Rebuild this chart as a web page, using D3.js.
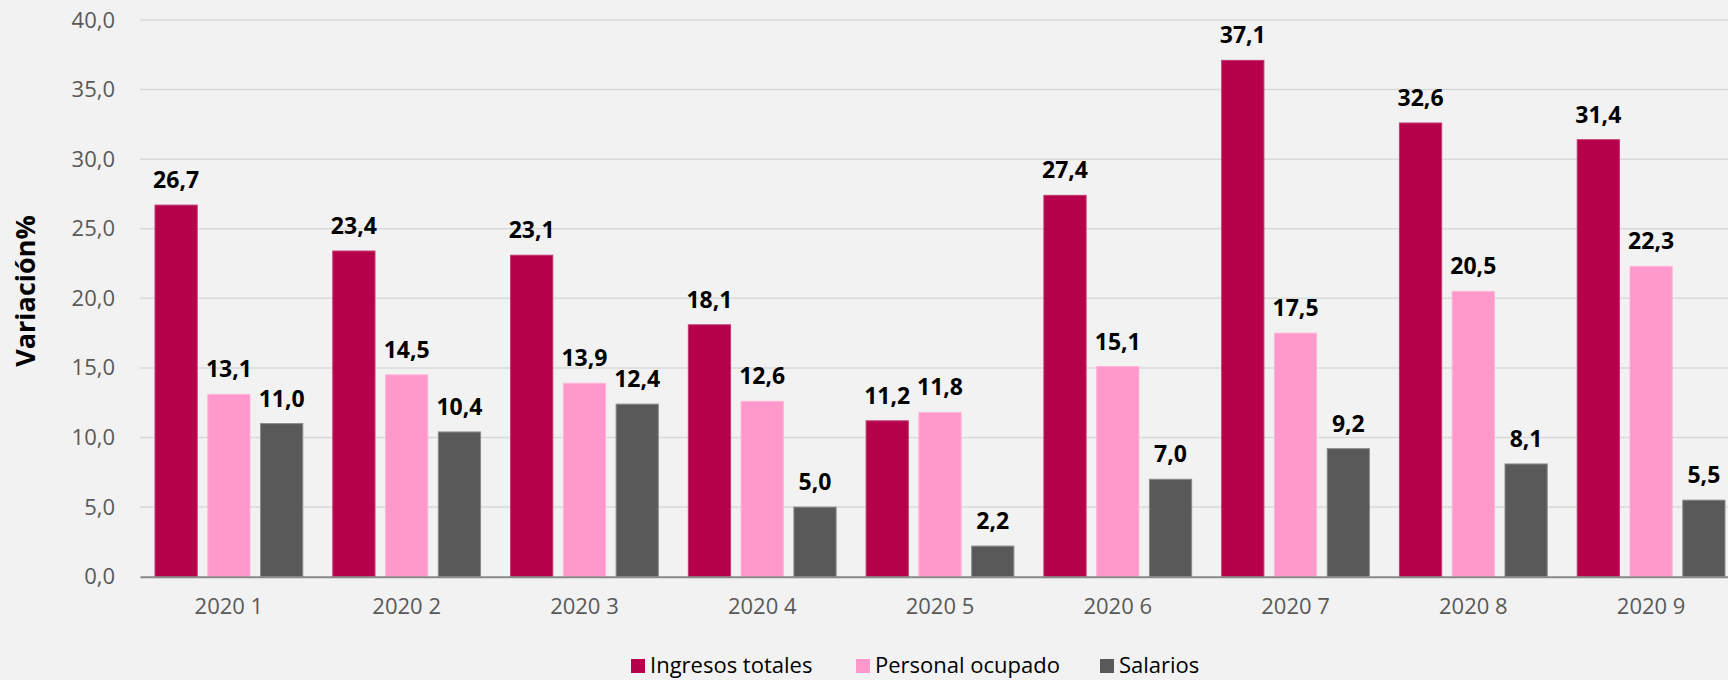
<!DOCTYPE html>
<html>
<head>
<meta charset="utf-8">
<script src="https://cdn.jsdelivr.net/npm/d3@7"></script>
<style>
  html, body { margin: 0; padding: 0; background: #f2f2f2; }
  #vis { width: 1728px; height: 680px; }
  text { font-family: 'Open Sans', 'Noto Sans', sans-serif; }
</style>
</head>
<body>
<div id="vis"></div>
<script>
const categories = ['2020 1', '2020 2', '2020 3', '2020 4', '2020 5', '2020 6', '2020 7', '2020 8', '2020 9']
const seriesNames = ['Ingresos totales', 'Personal ocupado', 'Salarios']
const ingresos = [26.7, 23.4, 23.1, 18.1, 11.2, 27.4, 37.1, 32.6, 31.4]
const personal = [13.1, 14.5, 13.9, 12.6, 11.8, 15.1, 17.5, 20.5, 22.3]
const salarios = [11.0, 10.4, 12.4, 5.0, 2.2, 7.0, 9.2, 8.1, 5.5]
const yTicks = [0, 5, 10, 15, 20, 25, 30, 35, 40]

const colors = ['#b5004a', '#ff99cb', '#595959']
const strokes = ['#c4386f', '#ffb3d8', '#8a8a8a']

const seriesValues = [ingresos, personal, salarios]
const data = categories.map((c, i) => ({
  cat: c,
  values: seriesNames.map((s, j) => ({ key: s, idx: j, value: seriesValues[j][i] }))
}))

const comma = v => d3.format('.1f')(v).replace('.', ',')

const width = 1728
const height = 680
const margin = { left: 140, top: 20, right: -12, bottom: 103.3 }
const innerWidth = width - margin.left - margin.right
const innerHeight = height - margin.top - margin.bottom

const svg = d3.select('#vis').append('svg')
  .attr('width', width)
  .attr('height', height)

svg.append('rect').attr('width', width).attr('height', height).attr('fill', '#f2f2f2')

const g = svg.append('g').attr('transform', `translate(${margin.left},${margin.top})`)

const x0 = d3.scaleBand().domain(categories).range([0, innerWidth]).padding(0)
const x1 = d3.scaleBand().domain(seriesNames)
  .range([15, x0.bandwidth() - 15]).paddingInner(0.2).paddingOuter(0)
const y = d3.scaleLinear().domain([0, 40]).range([innerHeight, 0])

// gridlines
g.append('g')
  .selectAll('line')
  .data(yTicks.filter(t => t > 0))
  .join('line')
  .attr('x1', 0)
  .attr('x2', width - margin.left)
  .attr('y1', d => y(d))
  .attr('y2', d => y(d))
  .attr('stroke', '#d9d9d9')
  .attr('stroke-width', 1.5)

// y axis labels
const yAxis = d3.axisLeft(y).tickValues(yTicks).tickFormat(comma).tickSize(0).tickPadding(25)
const yAxisG = g.append('g').call(yAxis)
yAxisG.select('.domain').remove()
yAxisG.selectAll('text')
  .style('font-size', '22px')
  .attr('fill', '#595959')

// bars
const groups = g.selectAll('.grp')
  .data(data)
  .join('g')
  .attr('class', 'grp')
  .attr('transform', d => `translate(${x0(d.cat)},0)`)

groups.selectAll('rect')
  .data(d => d.values)
  .join('rect')
  .attr('x', d => x1(d.key))
  .attr('width', x1.bandwidth())
  .attr('y', d => y(d.value))
  .attr('height', d => y(0) - y(d.value))
  .attr('fill', d => colors[d.idx])
  .attr('stroke', d => strokes[d.idx])
  .attr('stroke-width', 1)

groups.selectAll('.lbl')
  .data(d => d.values)
  .join('text')
  .attr('class', 'lbl')
  .attr('x', d => x1(d.key) + x1.bandwidth() / 2)
  .attr('y', d => y(d.value) - 17)
  .attr('text-anchor', 'middle')
  .style('font-size', '23px')
  .style('font-weight', 'bold')
  .attr('fill', '#000')
  .text(d => comma(d.value))

// x axis
const xAxis = d3.axisBottom(x0).tickSize(0).tickPadding(22)
const xAxisG = g.append('g').attr('transform', `translate(0,${innerHeight})`).call(xAxis)
xAxisG.select('.domain').attr('stroke', '#898989').attr('stroke-width', 2)
xAxisG.selectAll('text')
  .style('font-size', '22px')
  .attr('fill', '#595959')

// y axis title
svg.append('text')
  .attr('transform', 'translate(35,291) rotate(-90)')
  .attr('text-anchor', 'middle')
  .style('font-size', '27px')
  .style('font-weight', 'bold')
  .attr('fill', '#000')
  .text('Variación%')

// legend
const legendX = [631, 856, 1100]
const legend = svg.append('g')
  .selectAll('g')
  .data(seriesNames)
  .join('g')
  .attr('transform', (d, i) => `translate(${legendX[i]},659)`)

legend.append('rect')
  .attr('width', 14)
  .attr('height', 14)
  .attr('fill', (d, i) => colors[i])

legend.append('text')
  .attr('x', 19)
  .attr('y', 14)
  .style('font-size', '22px')
  .attr('fill', '#000')
  .text(d => d)
</script>
</body>
</html>
